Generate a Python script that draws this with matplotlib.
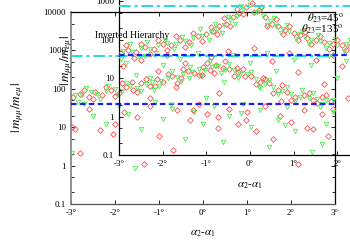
import numpy as np
import matplotlib
matplotlib.use("Agg")
import matplotlib.pyplot as plt
from matplotlib.ticker import LogLocator, NullFormatter, FixedLocator

plt.rcParams['font.family'] = ['Liberation Serif', 'DejaVu Serif']
plt.rcParams['mathtext.fontset'] = 'stix'
plt.rcParams['font.size'] = 6.5

# ---- back panel data (alpha2-alpha1 in degrees, |m_mumu/m_emu|) ----
main_red_x = [-2.95, -2.8, -2.6, -2.45, -2.3, -2.1, -1.9, -1.75, -1.6, -1.4, -1.2, -1.05,
              -0.9, -0.7, -0.5, -0.35, -0.2, 0.0, 0.15, 0.3, 0.45, 0.6, 0.8, 0.95, 1.1,
              1.3, 1.5, 1.7, 1.9, 2.1, 2.3, 2.5, 2.7, 2.9,
              -2.7, -2.5, -2.2, -2.0, -1.85, -1.5, -1.3, -1.1, -0.8, -0.6, -0.45, -0.1,
              0.1, 0.25, 0.5, 0.7, 0.9, 1.2, 1.4, 1.6, 1.8, 2.0, 2.4, 2.6, 2.8,
              -2.98, -2.9, -2.8, -2.6, -2.35, -2.05, -2.0, -1.8, -1.34, -1.5, -1.2, -1.0,
              -0.68, -0.6, -0.3, -0.1, 0.1, 0.33, 0.35, 0.6, 0.8, 1.0, 1.2, 1.4, 1.6,
              1.75, 2.0, 2.16, 2.3, 2.5, 2.7, 2.85, 2.95]
main_red_y = [60, 75, 62, 85, 70, 95, 80, 110, 95, 140, 120, 175,
              150, 220, 190, 290, 260, 380, 300, 420, 340, 330, 280, 210, 220,
              150, 140, 95, 85, 62, 70, 52, 60, 48,
              95, 55, 110, 65, 140, 85, 180, 115, 250, 140, 330, 230,
              480, 260, 520, 210, 330, 130, 180, 80, 125, 50, 80, 42, 70,
              10, 9, 2.1, 30, 8.5, 6.5, 12, 25, 1.1, 18, 35, 6,
              2.6, 28, 15, 40, 22, 9.3, 18, 30, 12, 25, 8, 35, 5,
              20, 14, 1.1, 28, 9, 22, 6, 30]
main_grn_x = [-2.9, -2.75, -2.55, -2.4, -2.2, -2.0, -1.85, -1.65, -1.5, -1.3, -1.15, -0.95,
              -0.8, -0.6, -0.45, -0.25, -0.1, 0.05, 0.2, 0.35, 0.5, 0.7, 0.85, 1.0, 1.2,
              1.4, 1.6, 1.8, 2.0, 2.2, 2.4, 2.6, 2.8, 2.95,
              -2.85, -2.65, -2.35, -2.15, -1.95, -1.75, -1.4, -1.2, -1.0, -0.7, -0.5, -0.3,
              -0.05, 0.15, 0.4, 0.6, 0.8, 1.1, 1.3, 1.5, 1.7, 1.9, 2.1, 2.5, 2.7,
              -2.98, -2.7, -2.5, -2.2, -1.9, -1.55, -1.7, -1.4, -1.1, -0.9, -0.7, -0.4,
              -0.2, 0.0, 0.25, 0.45, 0.6, 0.9, 1.1, 1.3, 1.5, 1.7, 1.9, 2.1, 2.48, 2.7,
              2.8, 2.95]
main_grn_y = [70, 68, 82, 72, 90, 100, 88, 120, 105, 130, 150, 160,
              190, 200, 240, 270, 330, 300, 360, 400, 310, 300, 250, 240, 180,
              130, 110, 90, 75, 60, 58, 55, 50, 52,
              45, 105, 55, 120, 70, 145, 90, 190, 120, 290, 160, 380,
              220, 520, 260, 450, 190, 280, 105, 165, 72, 110, 48, 80, 40,
              2.1, 40, 20, 12, 35, 0.85, 22, 9, 45, 16, 30, 5,
              25, 12, 35, 4, 20, 40, 10, 28, 3, 15, 33, 8, 2.2, 3.7,
              12, 25]

# ---- front panel data (Inverted Hierarchy) ----
inv_red_x = [-2.95, -2.8, -2.6, -2.4, -2.2, -2.0, -1.8, -1.6, -1.4, -1.2, -1.0, -0.85,
             -0.7, -0.55, -0.4, -0.25, -0.1, 0.05, 0.2, 0.35, 0.5, 0.65, 0.8, 1.0, 1.15,
             1.3, 1.5, 1.7, 1.9, 2.1, 2.3,
             -2.85, -2.65, -2.5, -2.3, -2.1, -1.9, -1.7, -1.5, -1.3, -1.1, -0.9, -0.75,
             -0.6, -0.45, -0.3, -0.15, 0.0, 0.1, 0.25, 0.4, 0.6, 0.75, 0.9, 1.1, 1.25,
             1.4, 1.6, 1.8, 2.0, 2.2,
             -2.9, -2.7, -2.5, -2.3, -2.1, -1.9, -1.7, -1.5, -1.3, -1.1, -0.9, -0.7,
             -0.5, -0.3, -0.1, 0.1, 0.3, 0.5, 0.7, 0.9, 1.1, 1.3, 1.5, 1.7, 1.9, 2.1, 2.25]
inv_red_y = [45, 52, 48, 62, 58, 75, 70, 95, 88, 120, 140, 170,
             230, 260, 380, 500, 700, 900, 600, 380, 260, 220, 180, 150, 130,
             110, 95, 85, 75, 72, 68,
             70, 34, 78, 42, 95, 52, 120, 65, 145, 90, 210, 140,
             360, 220, 620, 450, 1400, 520, 700, 230, 340, 140, 230, 100, 160,
             75, 125, 58, 95, 52,
             20, 8, 30, 3, 15, 40, 6, 25, 1.5, 12, 35, 4,
             50, 18, 0.8, 60, 10, 28, 2.5, 45, 14, 0.5, 30, 7, 40, 20, 3]
inv_grn_x = [-2.9, -2.7, -2.5, -2.3, -2.1, -1.9, -1.7, -1.5, -1.3, -1.1, -0.9, -0.75,
             -0.6, -0.45, -0.3, -0.15, 0.0, 0.15, 0.3, 0.45, 0.6, 0.75, 0.9, 1.1, 1.25,
             1.4, 1.6, 1.8, 2.0, 2.2,
             -2.95, -2.75, -2.55, -2.35, -2.15, -1.95, -1.75, -1.55, -1.35, -1.15, -0.95,
             -0.8, -0.65, -0.5, -0.35, -0.2, -0.05, 0.1, 0.25, 0.4, 0.55, 0.7, 0.85, 1.05,
             1.2, 1.35, 1.55, 1.75, 1.95, 2.15, 2.3,
             -2.85, -2.6, -2.4, -2.2, -2.0, -1.8, -1.6, -1.4, -1.2, -1.0, -0.8, -0.6,
             -0.4, -0.2, 0.0, 0.2, 0.4, 0.6, 0.8, 1.0, 1.2, 1.4, 1.6, 1.8, 2.0, 2.2]
inv_grn_y = [50, 46, 60, 55, 70, 80, 78, 90, 110, 125, 160, 190,
             240, 320, 420, 600, 800, 520, 420, 300, 230, 190, 165, 140, 115,
             100, 90, 80, 70, 75,
             32, 75, 36, 88, 45, 100, 58, 115, 72, 185, 100,
             250, 150, 390, 250, 720, 1200, 480, 640, 240, 360, 150, 240, 105,
             170, 75, 130, 60, 105, 50, 98,
             25, 12, 38, 5, 22, 2, 32, 10, 45, 3, 20, 8,
             40, 1.2, 25, 6, 45, 15, 0.6, 30, 5, 22, 1.8, 38, 10, 28]

cyan_level = 730
blue_level = 40
xticks = [-3, -2, -1, 0, 1, 2, 3]
xticklabels = ['-3°', '-2°', '-1°', '0°', '1°', '2°', '3°']
yticks = [0.1, 1, 10, 100, 1000, 10000]
yticklabels = ['0.1', '1', '10', '100', '1000', '10000']

W, H = 350, 245
fig = plt.figure(figsize=(W / 100, H / 100), dpi=100)


def setup(ax, gray_spines):
    ax.set_xlim(-3, 3)
    ax.set_yscale('log')
    ax.set_ylim(0.1, 10000)
    ax.xaxis.set_major_locator(FixedLocator(xticks))
    ax.set_xticklabels(xticklabels)
    ax.yaxis.set_major_locator(FixedLocator(yticks))
    ax.set_yticklabels(yticklabels)
    ax.yaxis.set_minor_locator(LogLocator(base=10, subs=(2, 5)))
    ax.yaxis.set_minor_formatter(NullFormatter())
    ax.tick_params(which='both', direction='in', top=True, right=True,
                   length=3, width=0.6, pad=3.5, labelsize=6.5)
    ax.tick_params(which='minor', length=2)
    for s in ax.spines.values():
        s.set_linewidth(0.9)
        s.set_color('black')
    if gray_spines:
        ax.spines['left'].set_color('#888888')
        ax.spines['bottom'].set_color('#555555')
        ax.spines['left'].set_linewidth(1.3)
    ax.set_xlabel(r'$\alpha_2$-$\alpha_1$', fontsize=8)
    ax.set_ylabel(r'$|\,m_{\mu\mu}/m_{e\mu}|$', fontsize=9.5)


def draw(ax, rx, ry, gx, gy):
    ax.plot(rx, ry, 'D', ms=2.9, mfc='none', mec='#ff4d4d', mew=0.6, zorder=3)
    ax.plot(gx, gy, 'v', ms=3.2, mfc='none', mec='#4dec4d', mew=0.6, zorder=3)
    ax.axhline(cyan_level, color='#22dddd', lw=1.4, ls=(0, (6, 2, 1.5, 2)), zorder=4)
    ax.axhline(blue_level, color='#2020ee', lw=1.6, ls=(0, (2.5, 1.5)), zorder=4)


# back panel
ax = fig.add_axes([71 / W, 1 - 204 / H, 264 / W, 192 / H])
setup(ax, True)
draw(ax, main_red_x, main_red_y, main_grn_x, main_grn_y)
ax.yaxis.set_label_coords(-45 / 264, 0.5)
ax.xaxis.set_label_coords(0.5, -24 / 192)

# front panel, shifted up and right, transparent
ax2 = fig.add_axes([119 / W, 1 - 155 / H, 262 / W, 192.5 / H])
ax2.patch.set_alpha(0)
setup(ax2, False)
draw(ax2, inv_red_x, inv_red_y, inv_grn_x, inv_grn_y)
ax2.yaxis.set_label_coords(-44 / 262, 0.49)
ax2.xaxis.set_label_coords(0.5, -25 / 192.5)

ax2.text(-3.55, 130, 'Inverted Hierarchy', fontsize=7, ha='left', va='center',
         clip_on=False)
ax2.text(2.15, 360, r'$\theta_{23}$=45$^{\rm o}$', fontsize=8, ha='right', va='center')
ax2.text(2.15, 187, r'$\theta_{23}$=135$^{\rm o}$', fontsize=8, ha='right', va='center')

fig.savefig('out.png', dpi=100)
